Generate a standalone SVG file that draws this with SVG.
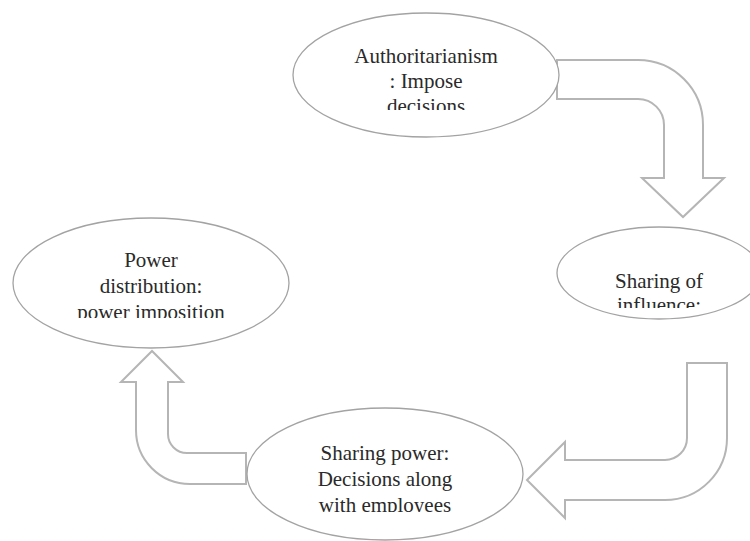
<svg xmlns="http://www.w3.org/2000/svg" width="750" height="541" viewBox="0 0 750 541">
<style>
.node ellipse{fill:#fff;stroke:#a3a3a3;stroke-width:1.3}
.lbl{font-family:"Liberation Serif","Times New Roman",serif;font-size:21px;fill:#2a2a2a;text-anchor:middle}
.conn path{fill:#fff;stroke:#b5b5b5;stroke-width:2;stroke-linejoin:miter}
</style>
<defs>
<clipPath id="c1"><rect x="300" y="30" width="250" height="80"/></clipPath>
<clipPath id="c2"><rect x="570" y="250" width="180" height="58"/></clipPath>
<clipPath id="c3"><rect x="20" y="240" width="260" height="78"/></clipPath>
<clipPath id="c4"><rect x="255" y="430" width="260" height="82"/></clipPath>
</defs>
<rect width="750" height="541" fill="#fff"/>
<g id="connectors" class="conn">
<path d="M557,60 H638 A65,65 0 0 1 703,125 V178 H724 L683,217 L642,178 H664 V125 A26,26 0 0 0 638,99 H557 Z"/>
<path d="M727,363 V438 A62,62 0 0 1 665,500 H565 V518 L527,480 L565,442 V460 H665 A22,22 0 0 0 687,438 V363 Z"/>
<path d="M246,453 H187 A19,19 0 0 1 168,434 V382 H183 L152,351 L121,382 H136 V430 A54,54 0 0 0 190,484 H246 Z"/>
</g>
<g id="n1" class="node">
<ellipse cx="426" cy="75" rx="133" ry="62"/>
<g clip-path="url(#c1)">
<text class="lbl" x="426" y="63">Authoritarianism</text>
<text class="lbl" x="426" y="88">: Impose</text>
<text class="lbl" x="426" y="113">decisions</text>
</g>
</g>
<g id="n2" class="node">
<ellipse cx="659" cy="273" rx="102" ry="46"/>
<g clip-path="url(#c2)">
<text class="lbl" x="659" y="288">Sharing of</text>
<text class="lbl" x="659" y="312">influence:</text>
</g>
</g>
<g id="n3" class="node">
<ellipse cx="151" cy="283" rx="138" ry="65"/>
<g clip-path="url(#c3)">
<text class="lbl" x="151" y="267">Power</text>
<text class="lbl" x="151" y="293">distribution:</text>
<text class="lbl" x="151" y="319">power imposition</text>
</g>
</g>
<g id="n4" class="node">
<ellipse cx="385" cy="474" rx="138" ry="66"/>
<g clip-path="url(#c4)">
<text class="lbl" x="385" y="460">Sharing power:</text>
<text class="lbl" x="385" y="486">Decisions along</text>
<text class="lbl" x="385" y="512">with employees</text>
</g>
</g>
</svg>
